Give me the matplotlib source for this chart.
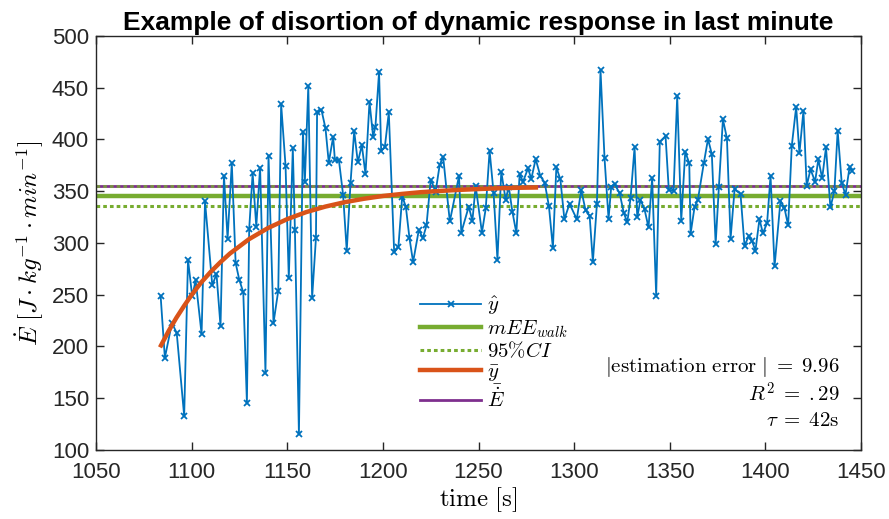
"""Distortion of dynamic response in the last minute (energy expenditure vs time)."""

import matplotlib

matplotlib.use("Agg")

import matplotlib.pyplot as plt

plt.rcParams["font.family"] = ["Liberation Sans Narrow", "Liberation Sans", "DejaVu Sans"]
plt.rcParams["mathtext.fontset"] = "cm"

# breath-by-breath estimate y_hat
time_s = [
    1083.8, 1086.0, 1089.7, 1092.2, 1096.1, 1098.1, 1100.3, 1102.1, 1105.2, 1107.0,
    1110.8, 1113.0, 1115.1, 1116.9, 1118.8, 1121.0, 1123.0, 1124.9, 1127.0, 1128.9,
    1130.1, 1131.9, 1133.8, 1135.8, 1138.6, 1140.2, 1142.8, 1145.3, 1146.8, 1149.1,
    1150.8, 1152.9, 1154.0, 1156.1, 1158.2, 1159.2, 1161.0, 1163.0, 1165.0, 1165.6,
    1167.9, 1170.0, 1171.7, 1174.0, 1174.9, 1177.0, 1179.2, 1181.1, 1183.1, 1185.0,
    1186.9, 1189.0, 1190.9, 1193.0, 1194.9, 1196.1, 1198.0, 1199.1, 1201.0, 1203.1,
    1205.9, 1208.1, 1210.1, 1212.0, 1213.9, 1215.8, 1218.8, 1220.9, 1222.8, 1225.0,
    1227.6, 1229.7, 1231.5, 1235.0, 1239.8, 1241.0, 1244.9, 1246.8, 1248.5, 1251.8,
    1253.8, 1255.8, 1257.9, 1259.9, 1261.9, 1264.2, 1265.8, 1267.7, 1269.8, 1271.5,
    1273.3, 1275.9, 1277.6, 1279.9, 1282.3, 1284.6, 1286.8, 1288.9, 1290.7, 1292.8,
    1294.9, 1297.6, 1301.4, 1303.7, 1306.0, 1308.1, 1309.8, 1311.9, 1313.8, 1315.9,
    1318.0, 1319.4, 1321.2, 1323.8, 1326.0, 1327.8, 1329.5, 1331.6, 1333.0, 1334.7,
    1336.8, 1338.9, 1340.8, 1342.9, 1344.8, 1347.8, 1349.5, 1352.0, 1353.9, 1356.0,
    1358.1, 1360.2, 1360.9, 1363.0, 1364.7, 1367.8, 1370.0, 1372.0, 1374.0, 1375.7,
    1377.8, 1379.9, 1381.8, 1383.9, 1387.0, 1389.1, 1391.2, 1393.1, 1394.8, 1396.9,
    1398.7, 1400.9, 1402.7, 1404.8, 1407.9, 1410.0, 1411.9, 1413.8, 1416.1, 1417.8,
    1419.9, 1421.6, 1423.6, 1426.0, 1427.7, 1429.7, 1431.7, 1434.0, 1436.1, 1437.8,
    1439.9, 1441.9, 1444.0, 1445.3,
]
y_hat = [
    248.4, 189.0, 222.7, 213.0, 132.8, 283.7, 248.4, 263.8, 212.0, 340.0,
    259.0, 270.0, 219.5, 365.0, 304.0, 377.0, 280.7, 264.4, 252.3, 145.6,
    313.6, 367.2, 315.8, 372.7, 174.6, 384.2, 222.7, 253.9, 434.0, 374.6,
    266.0, 391.3, 312.6, 115.2, 407.4, 359.2, 451.4, 246.8, 304.6, 426.6,
    428.2, 410.6, 377.5, 402.5, 380.1, 380.1, 346.4, 292.4, 358.2, 408.0,
    377.8, 394.5, 366.3, 436.3, 402.5, 412.2, 465.2, 389.0, 392.3, 426.0,
    291.1, 295.9, 344.8, 335.1, 304.6, 281.5, 312.6, 304.6, 316.8, 361.0,
    349.6, 375.3, 383.3, 320.7, 364.7, 310.0, 335.1, 321.3, 355.0, 310.0,
    333.5, 389.0, 348.0, 283.7, 368.8, 341.5, 354.4, 330.3, 309.4, 366.3,
    359.2, 372.0, 361.8, 381.0, 364.7, 358.2, 335.8, 295.0, 373.0, 361.4,
    322.9, 337.7, 322.9, 351.2, 331.3, 326.4, 281.5, 337.4, 466.8, 381.7,
    323.2, 354.4, 356.6, 348.0, 328.7, 320.0, 343.1, 392.3, 324.8, 341.5,
    332.5, 314.9, 362.4, 249.1, 397.7, 403.2, 351.2, 350.2, 441.7, 321.6,
    388.1, 376.9, 308.8, 335.1, 341.5, 376.9, 400.3, 385.8, 298.8, 354.4,
    419.4, 401.0, 304.0, 351.8, 347.3, 297.2, 306.2, 301.4, 292.4, 322.9,
    309.4, 319.1, 364.7, 277.3, 340.6, 333.5, 316.8, 393.6, 431.4, 386.5,
    427.6, 355.0, 371.1, 359.2, 380.7, 362.4, 392.3, 334.2, 350.2, 408.3,
    358.2, 346.4, 373.0, 369.5,
]

# fitted mono-exponential response y_bar (tau = 42 s)
fit_time_s = [
    1084, 1088, 1092, 1096, 1100, 1105, 1110, 1115, 1120, 1130, 1140, 1150,
    1160, 1170, 1180, 1190, 1200, 1210, 1220, 1230, 1240, 1250, 1260, 1270, 1280,
]
y_bar = [
    201.0, 215.0, 227.6, 239.0, 249.8, 261.8, 272.1, 281.3, 289.7, 303.6, 314.4, 323.0,
    329.8, 335.1, 339.3, 342.6, 345.3, 347.3, 349.0, 350.2, 351.2, 352.0, 352.7, 353.2, 353.5,
]

mee_walk = 345.4
ci_low = 336.0
ci_high = 355.0
e_dot_mean = 355.0

abs_error = 9.96
r_squared = ".29"
tau_s = 42

fig = plt.figure(figsize=(8.89, 5.19), dpi=100)
ax = fig.add_axes([0.108, 0.133, 0.8605, 0.798])

ax.plot(time_s, y_hat, color="#0072BD", linewidth=1.3, marker="x", markersize=4.5,
        markeredgewidth=1.3, label=r"$\hat{y}$", zorder=3)
ax.axhline(mee_walk, color="#77AC30", linewidth=3.2, label=r"$mEE_{walk}$", zorder=2)
ax.axhline(ci_low, color="#77AC30", linewidth=2.2, linestyle=(0, (1.2, 1.0)),
           label=r"$95\%CI$", zorder=2)
ax.plot(fit_time_s, y_bar, color="#D95319", linewidth=3.2, label=r"$\bar{y}$", zorder=4)
ax.axhline(e_dot_mean, color="#7E2F8E", linewidth=2.0, label=r"$\bar{\dot{E}}$", zorder=2)
ax.axhline(ci_high, color="#77AC30", linewidth=2.2, linestyle=(0, (1.2, 1.0)), alpha=0.75,
           zorder=2.5)

ax.set_xlim(1050, 1450)
ax.set_ylim(100, 500)
ax.set_xticks(range(1050, 1451, 50))
ax.set_yticks(range(100, 501, 50))
ax.tick_params(direction="in", top=True, right=True, length=6, width=1.0, labelsize=16,
               colors="#262626", pad=5)
ax.tick_params(axis="x", pad=9)
for spine in ax.spines.values():
    spine.set_linewidth(1.0)
    spine.set_color("#262626")

ax.set_xlabel(r"$\mathrm{time}\ [\mathrm{s}]$", fontsize=18, labelpad=1)
ax.set_ylabel(r"$\dot{E}\ [J \cdot kg^{-1} \cdot min^{-1}]$", fontsize=18, labelpad=4)
ax.set_title("Example of disortion of dynamic response in last minute", fontsize=19,
             fontweight="bold", pad=4)

ax.legend(loc="upper left", bbox_to_anchor=(0.405, 0.41), frameon=False, fontsize=15,
          handlelength=2.9, handletextpad=0.3, labelspacing=0.05, borderpad=0.2)

ax.text(0.972, 0.2, r"$|\mathrm{estimation\ error}\ |\;=\;%.2f$" % abs_error,
        transform=ax.transAxes, ha="right", va="center", fontsize=15)
ax.text(0.972, 0.135, r"$R^2\;=\;%s$" % r_squared, transform=ax.transAxes, ha="right",
        va="center", fontsize=15)
ax.text(0.972, 0.07, r"$\tau\;=\;%d\mathrm{s}$" % tau_s, transform=ax.transAxes, ha="right",
        va="center", fontsize=15)

fig.savefig("out.png", dpi=100)
